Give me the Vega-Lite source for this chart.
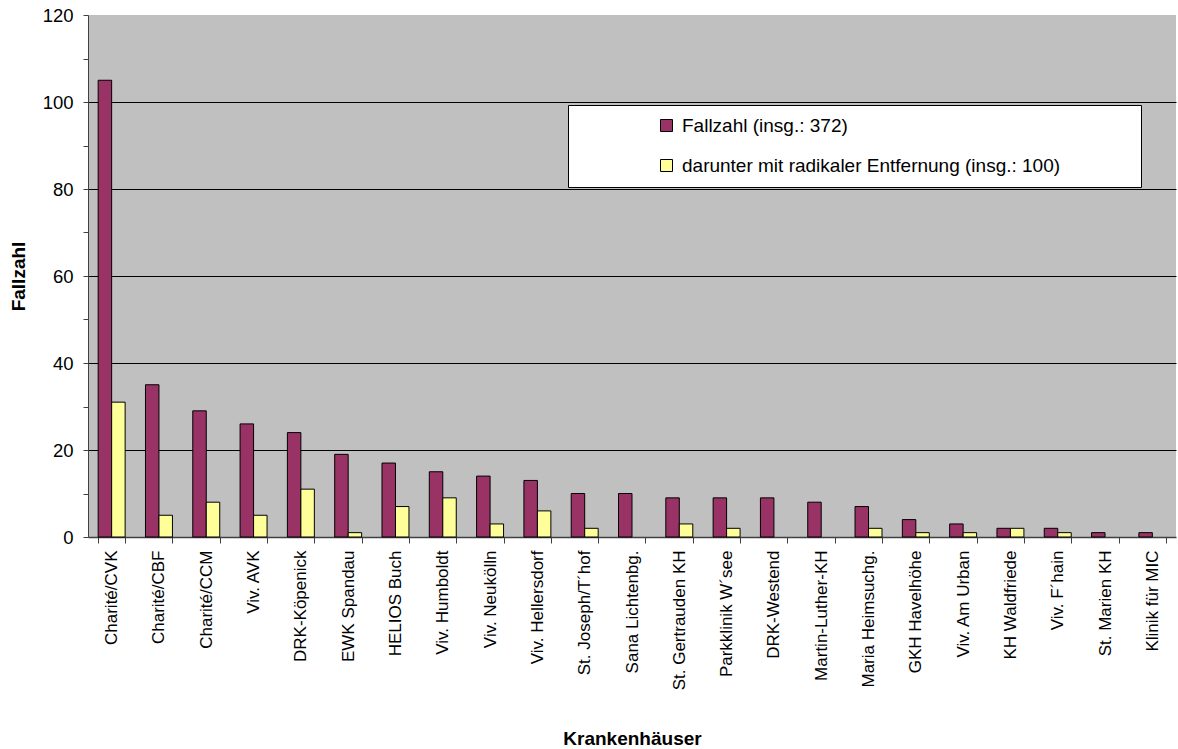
{
  "$schema": "https://vega.github.io/schema/vega-lite/v6.json",
  "width": 1088,
  "height": 522,
  "autosize": {"type": "none"},
  "padding": {"left": 88, "top": 15, "right": 2, "bottom": 212},
  "background": "white",
  "config": {
    "font": "Liberation Sans",
    "view": {"fill": "#C0C0C0", "stroke": null}
  },
  "data": {
    "values": [
      {"k": "Charité/CVK", "s": "Fallzahl (insg.: 372)", "v": 105},
      {"k": "Charité/CVK", "s": "darunter mit radikaler Entfernung (insg.: 100)", "v": 31},
      {"k": "Charité/CBF", "s": "Fallzahl (insg.: 372)", "v": 35},
      {"k": "Charité/CBF", "s": "darunter mit radikaler Entfernung (insg.: 100)", "v": 5},
      {"k": "Charité/CCM", "s": "Fallzahl (insg.: 372)", "v": 29},
      {"k": "Charité/CCM", "s": "darunter mit radikaler Entfernung (insg.: 100)", "v": 8},
      {"k": "Viv. AVK", "s": "Fallzahl (insg.: 372)", "v": 26},
      {"k": "Viv. AVK", "s": "darunter mit radikaler Entfernung (insg.: 100)", "v": 5},
      {"k": "DRK-Köpenick", "s": "Fallzahl (insg.: 372)", "v": 24},
      {"k": "DRK-Köpenick", "s": "darunter mit radikaler Entfernung (insg.: 100)", "v": 11},
      {"k": "EWK Spandau", "s": "Fallzahl (insg.: 372)", "v": 19},
      {"k": "EWK Spandau", "s": "darunter mit radikaler Entfernung (insg.: 100)", "v": 1},
      {"k": "HELIOS Buch", "s": "Fallzahl (insg.: 372)", "v": 17},
      {"k": "HELIOS Buch", "s": "darunter mit radikaler Entfernung (insg.: 100)", "v": 7},
      {"k": "Viv. Humboldt", "s": "Fallzahl (insg.: 372)", "v": 15},
      {"k": "Viv. Humboldt", "s": "darunter mit radikaler Entfernung (insg.: 100)", "v": 9},
      {"k": "Viv. Neukölln", "s": "Fallzahl (insg.: 372)", "v": 14},
      {"k": "Viv. Neukölln", "s": "darunter mit radikaler Entfernung (insg.: 100)", "v": 3},
      {"k": "Viv. Hellersdorf", "s": "Fallzahl (insg.: 372)", "v": 13},
      {"k": "Viv. Hellersdorf", "s": "darunter mit radikaler Entfernung (insg.: 100)", "v": 6},
      {"k": "St. Joseph/T´hof", "s": "Fallzahl (insg.: 372)", "v": 10},
      {"k": "St. Joseph/T´hof", "s": "darunter mit radikaler Entfernung (insg.: 100)", "v": 2},
      {"k": "Sana Lichtenbg.", "s": "Fallzahl (insg.: 372)", "v": 10},
      {"k": "Sana Lichtenbg.", "s": "darunter mit radikaler Entfernung (insg.: 100)", "v": 0},
      {"k": "St. Gertrauden KH", "s": "Fallzahl (insg.: 372)", "v": 9},
      {"k": "St. Gertrauden KH", "s": "darunter mit radikaler Entfernung (insg.: 100)", "v": 3},
      {"k": "Parkklinik W´see", "s": "Fallzahl (insg.: 372)", "v": 9},
      {"k": "Parkklinik W´see", "s": "darunter mit radikaler Entfernung (insg.: 100)", "v": 2},
      {"k": "DRK-Westend", "s": "Fallzahl (insg.: 372)", "v": 9},
      {"k": "DRK-Westend", "s": "darunter mit radikaler Entfernung (insg.: 100)", "v": 0},
      {"k": "Martin-Luther-KH", "s": "Fallzahl (insg.: 372)", "v": 8},
      {"k": "Martin-Luther-KH", "s": "darunter mit radikaler Entfernung (insg.: 100)", "v": 0},
      {"k": "Maria Heimsuchg.", "s": "Fallzahl (insg.: 372)", "v": 7},
      {"k": "Maria Heimsuchg.", "s": "darunter mit radikaler Entfernung (insg.: 100)", "v": 2},
      {"k": "GKH Havelhöhe", "s": "Fallzahl (insg.: 372)", "v": 4},
      {"k": "GKH Havelhöhe", "s": "darunter mit radikaler Entfernung (insg.: 100)", "v": 1},
      {"k": "Viv. Am Urban", "s": "Fallzahl (insg.: 372)", "v": 3},
      {"k": "Viv. Am Urban", "s": "darunter mit radikaler Entfernung (insg.: 100)", "v": 1},
      {"k": "KH Waldfriede", "s": "Fallzahl (insg.: 372)", "v": 2},
      {"k": "KH Waldfriede", "s": "darunter mit radikaler Entfernung (insg.: 100)", "v": 2},
      {"k": "Viv. F´hain", "s": "Fallzahl (insg.: 372)", "v": 2},
      {"k": "Viv. F´hain", "s": "darunter mit radikaler Entfernung (insg.: 100)", "v": 1},
      {"k": "St. Marien KH", "s": "Fallzahl (insg.: 372)", "v": 1},
      {"k": "St. Marien KH", "s": "darunter mit radikaler Entfernung (insg.: 100)", "v": 0},
      {"k": "Klinik für MIC", "s": "Fallzahl (insg.: 372)", "v": 1},
      {"k": "Klinik für MIC", "s": "darunter mit radikaler Entfernung (insg.: 100)", "v": 0}
    ]
  },
  "mark": {"type": "bar", "stroke": "black", "strokeWidth": 1},
  "encoding": {
    "x": {
      "field": "k",
      "type": "nominal",
      "sort": null,
      "scale": {"paddingInner": 0.43, "paddingOuter": 0.215},
      "axis": {
        "title": "Krankenhäuser",
        "titleFontSize": 19,
        "titleFontWeight": "bold",
        "titleColor": "black",
        "titleBaseline": "alphabetic",
        "titleY": 207,
        "labelAngle": -90,
        "labelAlign": "right",
        "labelBaseline": "middle",
        "labelFontSize": 17,
        "labelColor": "black",
        "labelPadding": 7,
        "labelLimit": 300,
        "tickBand": "extent",
        "tickSize": 6,
        "tickColor": "#404040",
        "domainColor": "#404040",
        "domainWidth": 1.5,
        "grid": false
      }
    },
    "xOffset": {
      "field": "s",
      "type": "nominal",
      "sort": null,
      "scale": {"paddingInner": 0, "paddingOuter": 0}
    },
    "y": {
      "field": "v",
      "type": "quantitative",
      "scale": {"domain": [0, 120], "nice": false},
      "axis": {
        "title": "Fallzahl",
        "titleFontSize": 19,
        "titleFontWeight": "bold",
        "titleColor": "black",
        "titleAngle": -90,
        "titleBaseline": "alphabetic",
        "titleX": -64,
        "titleY": 261,
        "values": [0, 10, 20, 30, 40, 50, 60, 70, 80, 90, 100, 110, 120],
        "labelExpr": "datum.value % 20 == 0 ? datum.label : ''",
        "labelFontSize": 18.5,
        "labelColor": "black",
        "labelPadding": 10,
        "tickSize": 5,
        "tickColor": "#404040",
        "domainColor": "#404040",
        "grid": true,
        "gridColor": "black",
        "gridWidth": 1,
        "gridOpacity": {"condition": {"test": "datum.value % 20 != 0 || datum.value == 120 || datum.value == 0", "value": 0}, "value": 1}
      }
    },
    "strokeOpacity": {
      "condition": {"test": "datum.v == 0", "value": 0},
      "value": 1
    },
    "color": {
      "field": "s",
      "type": "nominal",
      "sort": null,
      "scale": {
        "domain": ["Fallzahl (insg.: 372)", "darunter mit radikaler Entfernung (insg.: 100)"],
        "range": ["#993366", "#FFFF99"]
      },
      "legend": {
        "orient": "none",
        "legendX": 480,
        "legendY": 90,
        "title": "\u00a0",
        "titleOrient": "right",
        "titlePadding": 70,
        "fillColor": "white",
        "strokeColor": "black",
        "padding": 11,
        "symbolOffset": 78,
        "symbolType": "square",
        "symbolSize": 144,
        "symbolStrokeColor": "black",
        "symbolStrokeWidth": 1,
        "symbolOpacity": 1,
        "labelFontSize": 19,
        "labelColor": "black",
        "labelOffset": 6,
        "labelLimit": 600,
        "rowPadding": 20
      }
    }
  }
}
